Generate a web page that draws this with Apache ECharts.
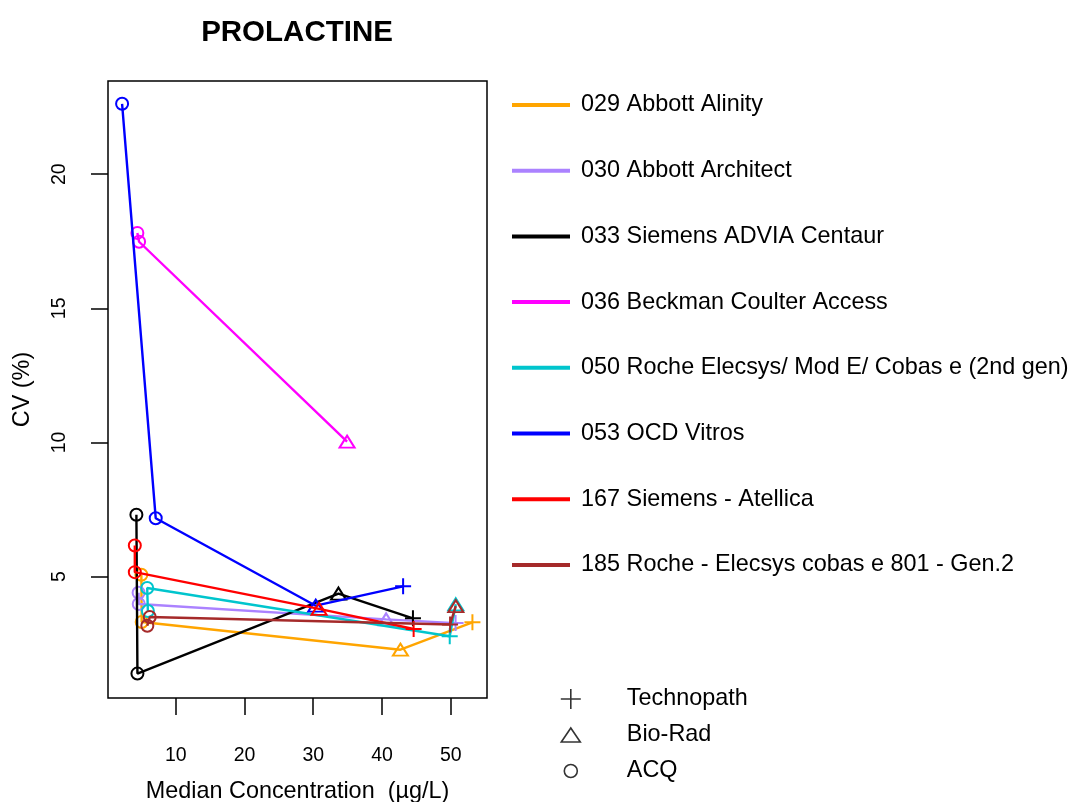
<!DOCTYPE html>
<html><head><meta charset="utf-8">
<script src="https://cdn.jsdelivr.net/npm/echarts@6/dist/echarts.min.js"></script>
<style>html,body{margin:0;padding:0;background:#fff}#c{width:1071px;height:802px}</style>
</head><body><div id="c"></div>
<script>
const chartTitle = 'PROLACTINE';
const xName = 'Median Concentration  (µg/L)';
const yName = 'CV (%)';
const xTicks = [10, 20, 30, 40, 50];
const yTicks = [5, 10, 15, 20];
const labs = [
  '029 Abbott Alinity',
  '030 Abbott Architect',
  '033 Siemens ADVIA Centaur',
  '036 Beckman Coulter Access',
  '050 Roche Elecsys/ Mod E/ Cobas e (2nd gen)',
  '053 OCD Vitros',
  '167 Siemens - Atellica',
  '185 Roche - Elecsys cobas e 801 - Gen.2'
];
const sources = ['Technopath', 'Bio-Rad', 'ACQ'];
// [median concentration, CV %, source]
const lab029 = [[5.00, 5.07, 'ACQ'], [5.05, 3.31, 'ACQ'], [42.68, 2.28, 'Bio-Rad'], [53.15, 3.30, 'Technopath']];
const lab030 = [[4.60, 4.40, 'ACQ'], [4.62, 3.98, 'ACQ'], [40.60, 3.41, 'Bio-Rad'], [50.70, 3.27, 'Technopath']];
const lab033 = [[4.28, 7.31, 'ACQ'], [4.43, 1.39, 'ACQ'], [33.67, 4.37, 'Bio-Rad'], [44.50, 3.45, 'Technopath']];
const lab036 = [[4.42, 17.81, 'ACQ'], [4.67, 17.48, 'ACQ'], [34.92, 10.03, 'Bio-Rad']];
const lab050 = [[5.95, 3.72, 'ACQ'], [5.85, 4.58, 'ACQ'], [49.85, 2.78, 'Technopath'], [50.73, 3.97, 'Bio-Rad']];
const lab053 = [[2.20, 22.62, 'ACQ'], [7.09, 7.18, 'ACQ'], [30.36, 3.92, 'Bio-Rad'], [43.07, 4.64, 'Technopath']];
const lab167 = [[4.05, 6.16, 'ACQ'], [4.05, 5.17, 'ACQ'], [30.85, 3.80, 'Bio-Rad'], [44.60, 3.05, 'Technopath']];
const lab185 = [[5.87, 3.17, 'ACQ'], [6.22, 3.50, 'ACQ'], [49.90, 3.22, 'Technopath'], [50.73, 3.90, 'Bio-Rad']];
const labPoints = [lab029, lab030, lab033, lab036, lab050, lab053, lab167, lab185];

const labColors = ['#FFA500', '#AB82FF', '#000000', '#FF00FF', '#00C5CD', '#0000FF', '#FF0000', '#A52A2A'];
const FONT = 'Liberation Sans, Arial, sans-serif';
const PLUS = 'path://M0,10L20,10M10,0L10,20';
const symbolOf = { 'Technopath': PLUS, 'Bio-Rad': 'triangle', 'ACQ': 'circle' };
const sizeOf = { 'Technopath': 16, 'Bio-Rad': [15, 12], 'ACQ': 12 };

const series = labs.map((name, i) => ({
  type: 'line', name,
  data: labPoints[i].map(p => ({
    value: [p[0], p[1]],
    symbol: symbolOf[p[2]],
    symbolSize: sizeOf[p[2]],
    itemStyle: { color: 'rgba(0,0,0,0)', borderColor: labColors[i], borderWidth: 2 }
  })),
  lineStyle: { color: labColors[i], width: 2.4 },
  itemStyle: { color: labColors[i] },
  showAllSymbol: true,
  silent: true, animation: false, clip: false, z: 2 + i
}));
sources.forEach(s => series.push({
  type: 'scatter', name: s, data: [], symbol: symbolOf[s],
  itemStyle: { color: 'rgba(0,0,0,0)', borderColor: '#000', borderWidth: 1.5 }
}));

const shapeLegendRows = [699, 735, 771];
const shapeLegendSize = { 'Technopath': [20, 20], 'Bio-Rad': [19, 14], 'ACQ': [13, 13] };
const shapeLegends = sources.map((s, k) => {
  const [w, h] = shapeLegendSize[s];
  return {
    orient: 'vertical', left: 570 - w / 2, top: shapeLegendRows[k] - 13, padding: 0,
    itemWidth: w, itemHeight: h, selectedMode: false,
    data: [{ name: s, icon: symbolOf[s] }],
    itemStyle: { color: 'rgba(0,0,0,0)', borderColor: '#000', borderWidth: 1.6 },
    textStyle: { fontSize: 23.4, fontFamily: FONT, color: '#000', lineHeight: 26, padding: [0, 0, 0, 51 - w / 2] }
  };
});

const chart = echarts.init(document.getElementById('c'), null, { renderer: 'canvas' });
chart.setOption({
  backgroundColor: '#fff',
  animation: false,
  title: {
    text: chartTitle, left: 292, top: 13, textAlign: 'center',
    textStyle: { fontSize: 29.5, fontWeight: 'bold', fontFamily: FONT, color: '#000' }
  },
  grid: {
    left: 108, right: 584, top: 81, bottom: 104,
    show: true, borderColor: '#000', borderWidth: 1.5, backgroundColor: 'transparent',
    containLabel: false, outerBoundsMode: 'none'
  },
  legend: [{
    orient: 'vertical', left: 512, top: 92, padding: 0,
    itemWidth: 58, itemHeight: 4, itemGap: 39.7, selectedMode: false,
    data: labs.map(n => ({ name: n, icon: 'rect' })),
    itemStyle: { borderWidth: 0 },
    textStyle: { fontSize: 23.4, fontFamily: FONT, color: '#000', lineHeight: 26, padding: [0, 0, 0, 6] }
  }].concat(shapeLegends),
  xAxis: {
    type: 'value', min: 0.15, max: 55.27,
    name: xName, nameLocation: 'middle', nameGap: 82,
    nameTextStyle: { fontSize: 23.4, fontFamily: FONT, color: '#000' },
    axisLine: { show: false },
    splitLine: { show: false },
    axisTick: { show: true, customValues: xTicks, length: 17, inside: false, lineStyle: { color: '#000', width: 1.5 } },
    axisLabel: { customValues: xTicks, margin: 48, fontSize: 19.5, fontFamily: FONT, color: '#000' }
  },
  yAxis: {
    type: 'value', min: 0.48, max: 23.47,
    name: yName, nameLocation: 'middle', nameGap: 74,
    nameTextStyle: { fontSize: 23.4, fontFamily: FONT, color: '#000' },
    axisLine: { show: false },
    splitLine: { show: false },
    axisTick: { show: true, customValues: yTicks, length: 17, inside: false, lineStyle: { color: '#000', width: 1.5 } },
    axisLabel: { customValues: yTicks, margin: 38, rotate: 90, fontSize: 19.5, fontFamily: FONT, color: '#000' }
  },
  series
});
</script>
</body></html>
